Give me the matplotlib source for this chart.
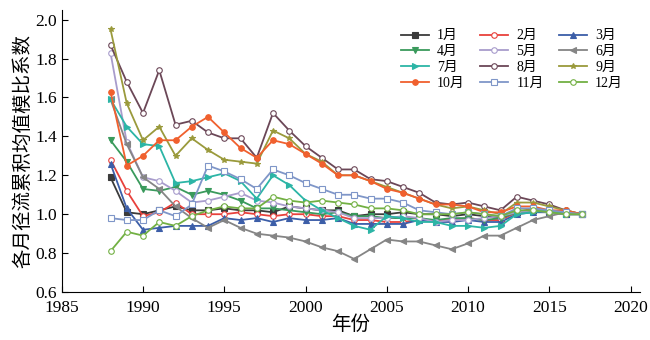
from matplotlib import pyplot as plt
import numpy as np

plt.rcParams['font.family'] = ['Liberation Serif', 'Noto Sans CJK SC']
plt.rcParams['axes.unicode_minus'] = False

years = list(range(1988, 2018))

jan = [1.19, 1.01, 1.00, 1.02, 1.04, 1.02, 1.02, 1.03, 1.02, 1.02, 1.01, 1.04, 1.03, 1.02, 1.02,
       0.99, 1.00, 1.00, 1.01, 1.00, 1.00, 0.99, 1.00, 0.99, 0.98, 1.01, 1.02, 1.01, 1.00, 1.00]
feb = [1.28, 1.12, 0.99, 1.01, 1.06, 1.00, 1.00, 1.00, 1.01, 1.00, 0.99, 1.00, 1.00, 0.99, 0.99,
       0.97, 0.97, 0.96, 0.96, 0.97, 0.97, 0.97, 0.98, 0.97, 0.97, 1.01, 1.03, 1.02, 1.00, 1.00]
mar = [1.26, 1.03, 0.92, 0.93, 0.94, 0.94, 0.94, 0.98, 0.97, 0.98, 0.96, 0.98, 0.97, 0.97, 0.98,
       0.95, 0.95, 0.95, 0.95, 0.97, 0.96, 0.96, 0.97, 0.96, 0.96, 1.00, 1.01, 1.01, 1.00, 1.00]
apr = [1.38, 1.27, 1.13, 1.12, 1.14, 1.10, 1.12, 1.10, 1.07, 1.03, 1.03, 1.02, 1.01, 1.00, 1.01,
       0.99, 0.99, 0.98, 0.98, 0.98, 0.97, 0.98, 0.98, 0.97, 0.98, 1.01, 1.02, 1.02, 1.00, 1.00]
may = [1.83, 1.37, 1.19, 1.17, 1.12, 1.06, 1.07, 1.09, 1.11, 1.07, 1.06, 1.04, 1.03, 1.02, 1.01,
       0.98, 0.98, 0.98, 0.99, 0.98, 0.96, 0.97, 0.97, 0.98, 0.99, 1.01, 1.02, 1.01, 1.00, 1.00]
jun = [1.59, 1.36, 1.19, 1.13, 1.04, 0.98, 0.93, 0.97, 0.93, 0.90, 0.89, 0.88, 0.86, 0.83, 0.81,
       0.77, 0.82, 0.87, 0.86, 0.86, 0.84, 0.82, 0.85, 0.89, 0.89, 0.93, 0.97, 0.99, 1.01, 1.00]
jul = [1.59, 1.45, 1.36, 1.35, 1.16, 1.17, 1.19, 1.21, 1.17, 1.08, 1.20, 1.15, 1.07, 1.02, 0.98,
       0.94, 0.92, 0.99, 0.98, 0.96, 0.96, 0.94, 0.94, 0.93, 0.94, 1.00, 1.01, 1.02, 1.00, 1.00]
aug = [1.87, 1.68, 1.52, 1.74, 1.46, 1.48, 1.42, 1.39, 1.39, 1.29, 1.52, 1.43, 1.35, 1.29, 1.23,
       1.23, 1.18, 1.17, 1.14, 1.11, 1.06, 1.05, 1.06, 1.04, 1.02, 1.09, 1.07, 1.05, 1.02, 1.00]
sep = [1.95, 1.57, 1.38, 1.45, 1.30, 1.39, 1.33, 1.28, 1.27, 1.26, 1.43, 1.39, 1.31, 1.27, 1.20,
       1.20, 1.17, 1.14, 1.11, 1.08, 1.05, 1.03, 1.04, 1.02, 1.00, 1.06, 1.06, 1.04, 1.02, 1.00]
oct_ = [1.63, 1.25, 1.30, 1.38, 1.38, 1.45, 1.50, 1.42, 1.34, 1.29, 1.38, 1.36, 1.31, 1.26, 1.20,
        1.20, 1.17, 1.13, 1.11, 1.08, 1.05, 1.05, 1.04, 1.01, 1.01, 1.04, 1.04, 1.02, 1.02, 1.00]
nov = [0.98, 0.97, 0.97, 1.02, 0.99, 1.05, 1.25, 1.22, 1.18, 1.13, 1.23, 1.20, 1.16, 1.13, 1.10,
       1.10, 1.08, 1.08, 1.06, 1.02, 1.01, 1.00, 1.01, 1.00, 0.99, 1.03, 1.03, 1.02, 1.01, 1.00]
dec = [0.81, 0.91, 0.89, 0.96, 0.94, 0.99, 1.02, 1.04, 1.03, 1.03, 1.09, 1.07, 1.06, 1.07, 1.06,
       1.05, 1.03, 1.03, 1.02, 1.00, 1.00, 1.00, 1.01, 1.00, 0.99, 1.02, 1.02, 1.01, 1.00, 1.00]

series = [jan, feb, mar, apr, may, jun, jul, aug, sep, oct_, nov, dec]
labels = ['1月', '2月', '3月', '4月', '5月', '6月', '7月', '8月', '9月', '10月', '11月', '12月']
colors = ['#3b3b3b', '#e8413c', '#3c5ea8', '#3a9a5c', '#a89ccc', '#858585',
          '#2cb5a6', '#6b4757', '#9a9a3c', '#f0602e', '#7f96c8', '#72b043']
markers = ['s', 'o', '^', 'v', 'o', '<', '>', 'o', '*', 'o', 's', 'o']
filled = [True, False, True, True, False, True, True, False, True, True, False, False]

fig = plt.figure(figsize=(6.5, 3.4), dpi=100)
ax = fig.add_axes([0.095, 0.141, 0.89, 0.83])

handles = []
for s, lab, c, m, f in zip(series, labels, colors, markers, filled):
    h, = ax.plot(years, s, color=c, marker=m, markersize=4, linewidth=1.3,
                 markerfacecolor=c if f else 'white', markeredgecolor=c,
                 markeredgewidth=0.8, label=lab)
    handles.append(h)

# legend is filled column by column, so reorder to get 1-2-3 across the rows
order = [0, 3, 6, 9, 1, 4, 7, 10, 2, 5, 8, 11]
ax.legend([handles[i] for i in order], [labels[i] for i in order], ncol=3,
          frameon=False, fontsize=10, loc='upper left', bbox_to_anchor=(0.565, 0.975),
          handlelength=2.0, handletextpad=0.6, columnspacing=1.1, labelspacing=0.2)

ax.set_xlim(1985, 2020.6)
ax.set_ylim(0.6, 2.05)
ax.set_xticks(np.arange(1985, 2021, 5))
ax.set_yticks(np.arange(0.6, 2.01, 0.2))
ax.yaxis.set_major_formatter(plt.FormatStrFormatter('%.1f'))
ax.spines['top'].set_visible(False)
ax.spines['right'].set_visible(False)
ax.tick_params(direction='in', labelsize=12.5, length=4)
ax.tick_params(axis='x', pad=6)
ax.set_xlabel('年份', fontsize=14, labelpad=-1)
ax.set_ylabel('各月径流累积均值模比系数', fontsize=14, labelpad=2)

plt.savefig('out.png', dpi=100)
